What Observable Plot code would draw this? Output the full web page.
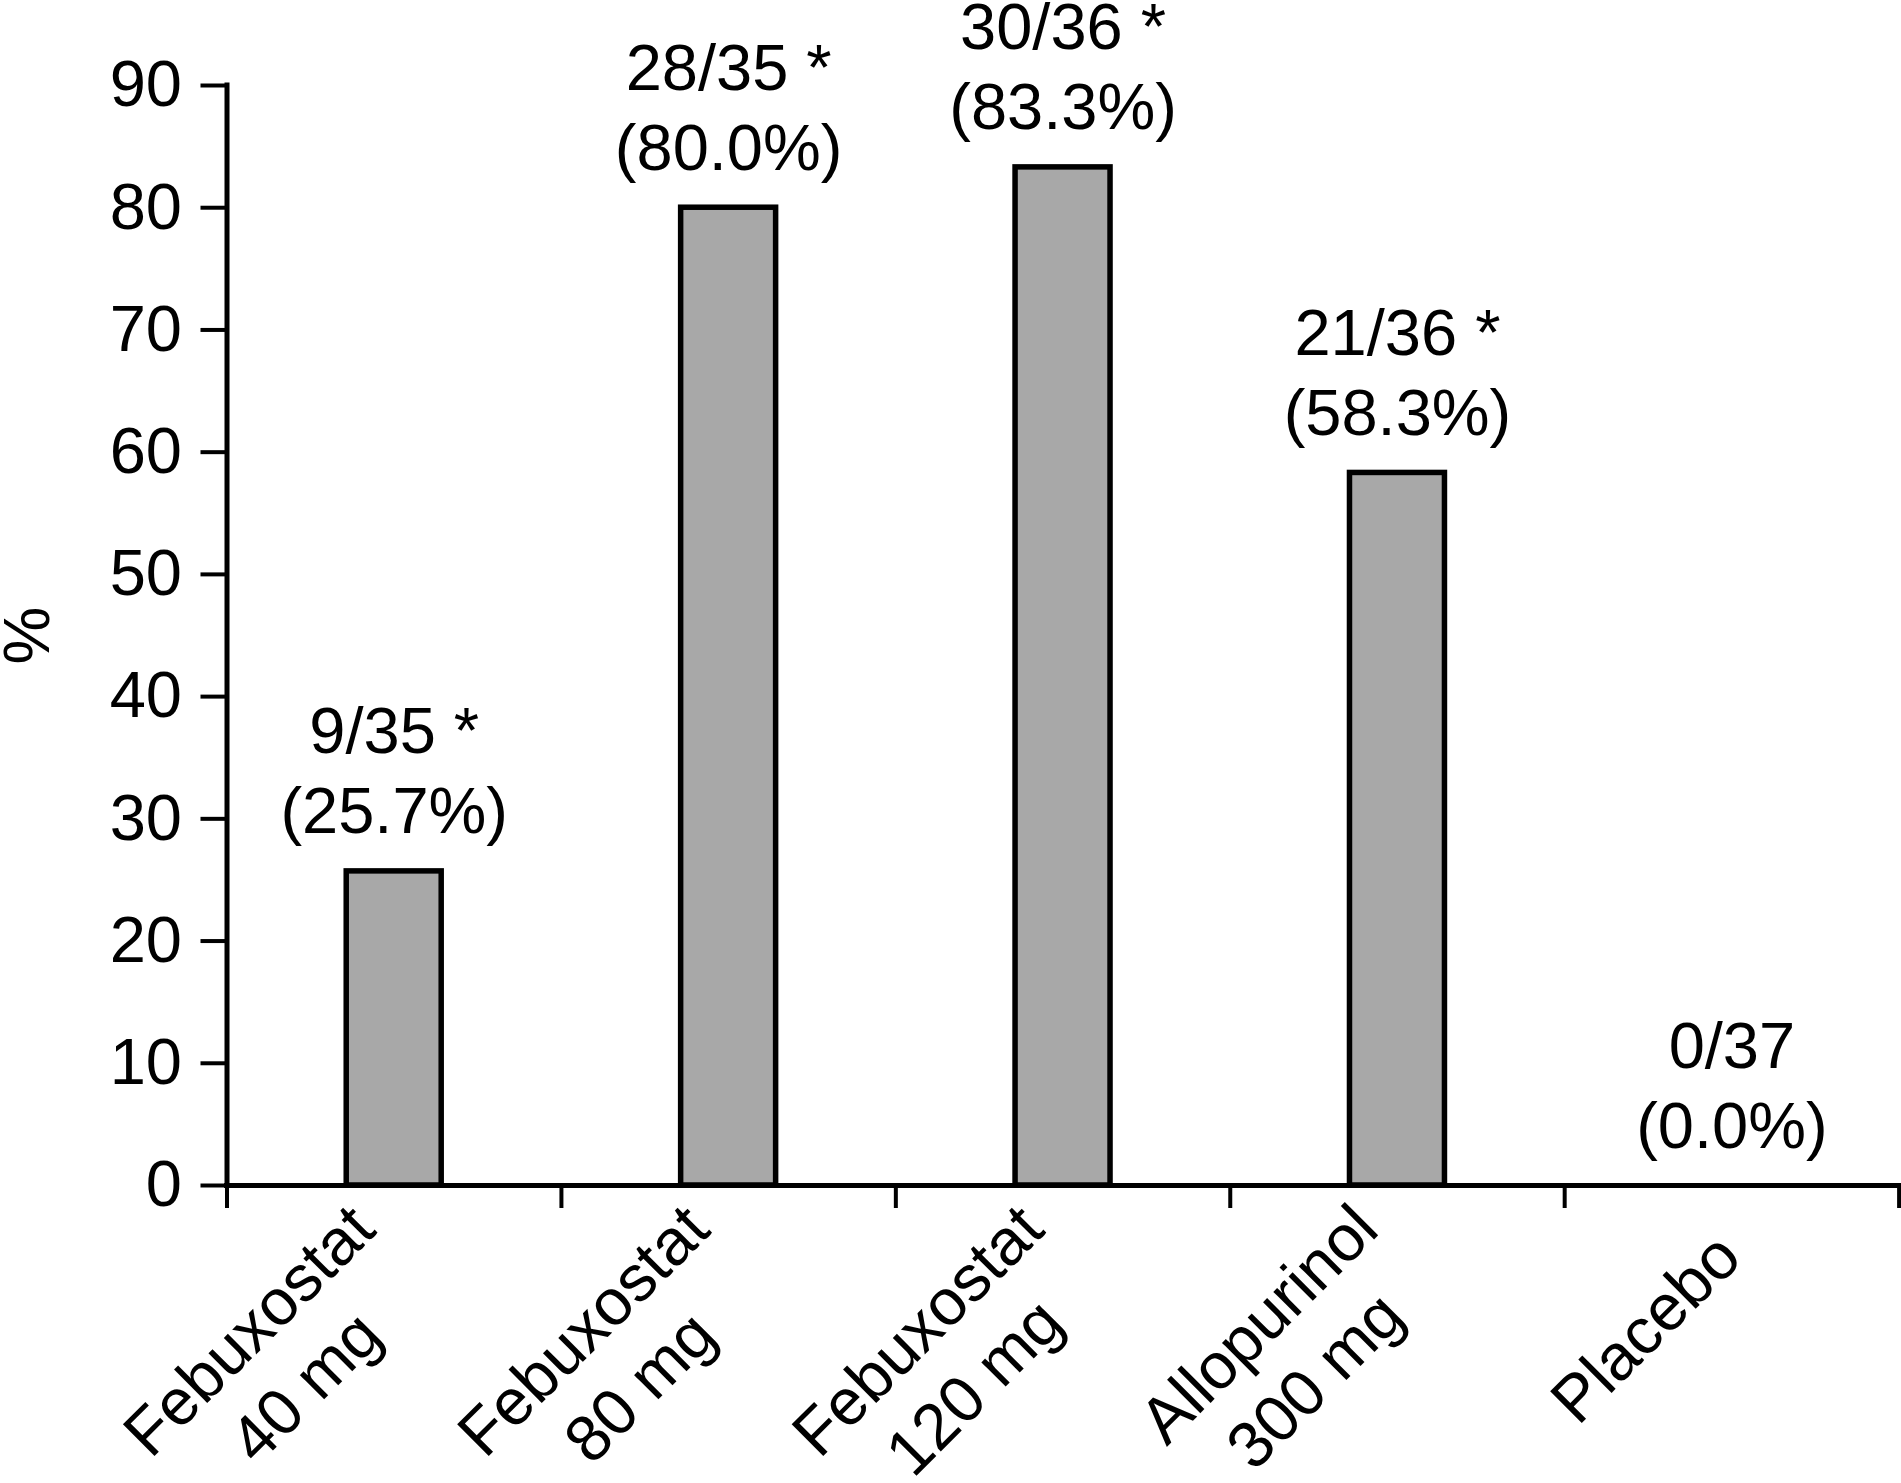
<!DOCTYPE html>
<html><head><meta charset="utf-8">
<script src="https://cdn.jsdelivr.net/npm/d3@7"></script>
<script src="https://cdn.jsdelivr.net/npm/@observablehq/plot@0.6"></script>
<style>html,body{margin:0;padding:0;background:#fff;} #chart svg{display:block;}</style>
</head><body><div id="chart"></div>
<script>
// ---- data ----
const drugs = ["Febuxostat", "Febuxostat", "Febuxostat", "Allopurinol", "Placebo"];
const doses = ["40 mg", "80 mg", "120 mg", "300 mg", ""];
const responders = [9, 28, 30, 21, 0];
const totals = [35, 35, 36, 36, 37];
const percents = [25.7, 80.0, 83.3, 58.3, 0.0];
const significant = [true, true, true, true, false];
const yTicks = [0, 10, 20, 30, 40, 50, 60, 70, 80, 90];
const groupEdges = [0, 1, 2, 3, 4, 5];
const yLabel = "%";

// ---- styling ----
const FONT = "'Liberation Sans', Arial, Helvetica, sans-serif";
const FS = 65;
const LH = 1.23;
const BAR_HALF = 0.142;

const data = drugs.map((drug, i) => ({
  i,
  pct: percents[i],
  label: `${responders[i]}/${totals[i]}${significant[i] ? " *" : ""}\n(${percents[i].toFixed(1)}%)`,
  name: doses[i] ? `${drug}\n${doses[i]}` : drug
}));

const ctx = document.createElement("canvas").getContext("2d");
ctx.font = `${FS}px 'Liberation Sans', Arial, sans-serif`;
const lineWidth = s => Math.max(...s.split("\n").map(t => ctx.measureText(t).width));

const categoryLabels = data.map(d => {
  const h = lineWidth(d.name) / 2 * Math.SQRT1_2;
  return Plot.text([d], {
    x: d => d.i + 0.5, y: () => 0, text: "name",
    rotate: -45, textAnchor: "middle", lineAnchor: "middle", lineHeight: LH,
    fontSize: FS, fill: "black", dx: -6 - h, dy: 57 + h
  });
});

const chart = Plot.plot({
  width: 1901, height: 1483,
  marginLeft: 226.5, marginRight: 2.4, marginTop: 85, marginBottom: 298,
  style: {fontFamily: FONT, fontSize: FS + "px", color: "black", background: "white", overflow: "visible"},
  x: {type: "linear", domain: [0, 5]},
  y: {domain: [0, 90]},
  marks: [
    Plot.rectY(data, {
      x1: d => d.i + 0.5 - BAR_HALF, x2: d => d.i + 0.5 + BAR_HALF, y: "pct",
      fill: "#a8a8a8", stroke: "black", strokeWidth: 5.5
    }),
    Plot.axisY(yTicks, {anchor: "left", tickSize: 26, tickPadding: 19, strokeWidth: 4, fontSize: FS, label: null}),
    Plot.axisX(groupEdges, {anchor: "bottom", tickSize: 23, tickPadding: 0, strokeWidth: 4, tickFormat: () => "", label: null}),
    Plot.ruleX([0], {y1: 0, y2: 90, stroke: "black", strokeWidth: 5, strokeLinecap: "square"}),
    Plot.ruleY([0], {stroke: "black", strokeWidth: 5, strokeLinecap: "square"}),
    Plot.text(data, {
      x: d => d.i + 0.5, y: "pct", text: "label",
      lineAnchor: "bottom", lineHeight: LH, dy: -38, fontSize: FS, fill: "black"
    }),
    ...categoryLabels,
    Plot.text([yLabel], {
      x: () => 0, y: () => (yTicks[0] + yTicks[yTicks.length - 1]) / 2, text: d => d,
      rotate: -90, textAnchor: "middle", lineAnchor: "middle", dx: -199, fontSize: FS, fill: "black"
    })
  ]
});
document.getElementById("chart").append(chart);
</script>
</body></html>
